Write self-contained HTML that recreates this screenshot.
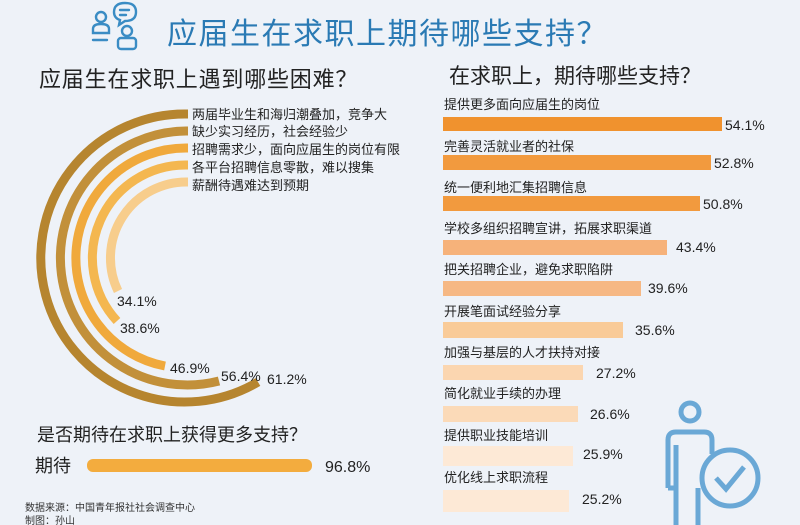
<!DOCTYPE html>
<html><head><meta charset="utf-8"><style>
html,body{margin:0;padding:0;background:#eef2f8;}
svg{display:block;}
text{font-family:"Liberation Sans","Noto Sans CJK SC",sans-serif;}
</style></head><body>
<svg width="800" height="525" viewBox="0 0 800 525" xmlns="http://www.w3.org/2000/svg">
<rect width="800" height="525" fill="#eef2f8"/>
<!-- header icon -->
<g fill="none" stroke="#3a8cc4" stroke-width="2.4" stroke-linecap="round">
<circle cx="101" cy="17" r="5"/>
<path d="M93 33 v-4 q0 -5 8 -5 q8 0 8 5 v4 z"/>
<path d="M93 40 h14"/>
<circle cx="127" cy="31" r="5"/>
<rect x="118" y="38" width="18" height="11" rx="3"/>
<path d="M114 12 q0 -9 11 -9 q11 0 11 9 q0 9 -11 9 l-6 4 l1 -5 q-6 -2 -6 -8z"/>
<path d="M120 10 h9 M120 15 h6"/>
</g>
<text x="167" y="44" font-size="30" letter-spacing="1.5" fill="#2a7ab4">应届生在求职上期待哪些支持？</text>
<text x="39" y="87" font-size="22" letter-spacing="0.8" fill="#222">应届生在求职上遇到哪些困难？</text>
<text x="449" y="83" font-size="21" fill="#222">在求职上，期待哪些支持？</text>
<!-- arcs -->
<g fill="none" stroke-width="9">
<path d="M188 114 L186 114 A144 144 0 1 0 258 382" stroke="#b6852f"/>
<path d="M188 131 L186 131 A127 127 0 1 0 219 381" stroke="#c2903a"/>
<path d="M188 148 L186 148 A110 110 0 0 0 165 366" stroke="#f0a93c"/>
<path d="M188 165 L186 165 A93 93 0 0 0 117 321" stroke="#f4b750"/>
<path d="M188 182 L186 182 A76 76 0 0 0 118 291" stroke="#f7cd8c"/>
</g>
<g font-size="13" fill="#222">
<text x="192" y="119">两届毕业生和海归潮叠加，竞争大</text>
<text x="192" y="136">缺少实习经历，社会经验少</text>
<text x="192" y="154">招聘需求少，面向应届生的岗位有限</text>
<text x="192" y="172">各平台招聘信息零散，难以搜集</text>
<text x="192" y="190">薪酬待遇难达到预期</text>
</g>
<g font-size="14" fill="#222">
<text x="117" y="306">34.1%</text>
<text x="120" y="333">38.6%</text>
<text x="170" y="373">46.9%</text>
<text x="221" y="381">56.4%</text>
<text x="267" y="384">61.2%</text>
</g>
<text x="37" y="441" font-size="18" fill="#222">是否期待在求职上获得更多支持？</text>
<text x="35" y="472" font-size="18" fill="#222">期待</text>
<rect x="87" y="459" width="225" height="13" rx="6" fill="#f3ac3e"/>
<text x="325" y="472" font-size="16" fill="#222">96.8%</text>
<text x="25" y="511" font-size="10" fill="#333">数据来源：中国青年报社社会调查中心</text>
<text x="25" y="524" font-size="10" fill="#333">制图：孙山</text>
<!-- right bars -->
<g font-size="13" fill="#222">
<text x="444" y="109">提供更多面向应届生的岗位</text>
<rect x="443" y="117" width="279" height="14" fill="#f0922e"/><text x="725" y="130" font-size="14">54.1%</text>
<text x="444" y="151">完善灵活就业者的社保</text>
<rect x="443" y="155" width="268" height="15" fill="#f29a3e"/><text x="714" y="168" font-size="14">52.8%</text>
<text x="444" y="192">统一便利地汇集招聘信息</text>
<rect x="443" y="196" width="257" height="15" fill="#f29a3e"/><text x="703" y="209" font-size="14">50.8%</text>
<text x="444" y="233">学校多组织招聘宣讲，拓展求职渠道</text>
<rect x="443" y="240" width="224" height="15" fill="#f6b27a"/><text x="676" y="252" font-size="14">43.4%</text>
<text x="444" y="274">把关招聘企业，避免求职陷阱</text>
<rect x="443" y="281" width="198" height="15" fill="#f6b884"/><text x="648" y="293" font-size="14">39.6%</text>
<text x="444" y="316">开展笔面试经验分享</text>
<rect x="443" y="322" width="180" height="16" fill="#f9cb98"/><text x="635" y="335" font-size="14">35.6%</text>
<text x="444" y="357">加强与基层的人才扶持对接</text>
<rect x="443" y="365" width="140" height="15" fill="#fbd6b0"/><text x="596" y="378" font-size="14">27.2%</text>
<text x="444" y="398">简化就业手续的办理</text>
<rect x="443" y="406" width="135" height="16" fill="#fbdab8"/><text x="590" y="419" font-size="14">26.6%</text>
<text x="444" y="440">提供职业技能培训</text>
<rect x="443" y="446" width="130" height="20" fill="#fde9d6"/><text x="583" y="459" font-size="14">25.9%</text>
<text x="444" y="482">优化线上求职流程</text>
<rect x="443" y="490" width="126" height="22" fill="#fde9d6"/><text x="582" y="504" font-size="14">25.2%</text>
</g>
<!-- person icon -->
<g fill="none" stroke="#6aa8d6" stroke-width="5">
<circle cx="690" cy="412" r="9"/>
<path d="M668 488 V440 q0 -8 8 -8 h28 q8 0 8 8 v14 M668 488 h8 V445 M676 488 v37 M698 488 v37"/>
<circle cx="730" cy="478" r="28"/>
<path d="M716 478 l10 11 l18 -22"/>
</g>
</svg>
</body></html>
